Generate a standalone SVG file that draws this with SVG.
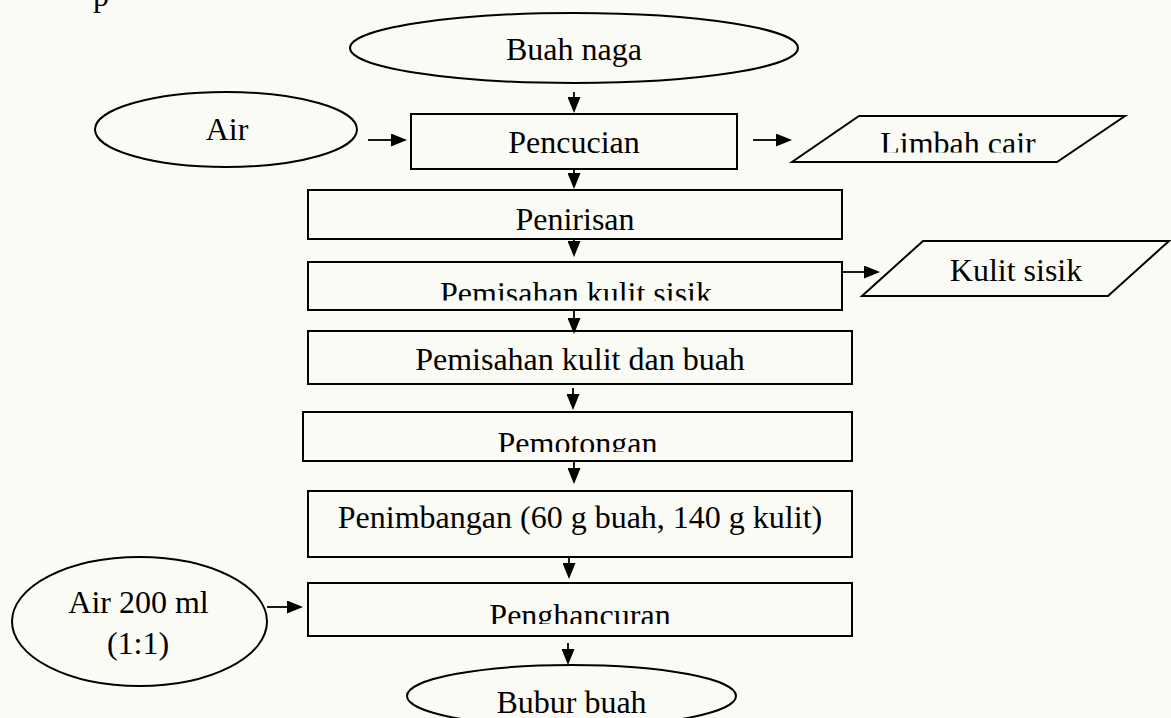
<svg xmlns="http://www.w3.org/2000/svg" width="1171" height="718" viewBox="0 0 1171 718">
  <style>
    .box{fill:none;stroke:#000;stroke-width:2}
    .lbl{font-family:"Liberation Serif","Times New Roman",serif;font-size:32px;fill:#000;text-anchor:middle}
    .con{stroke:#000;stroke-width:1.8;fill:none;marker-end:url(#ah)}
  </style>
  <defs>
    <marker id="ah" markerWidth="16" markerHeight="13" refX="8" refY="6.5" orient="auto" markerUnits="userSpaceOnUse">
      <path d="M0,0 L16,6.5 L0,13 z" fill="#000"/>
    </marker>
    <clipPath id="clipLimbah"><rect x="780" y="100" width="380" height="52.5"/></clipPath>
    <clipPath id="clipSisik"><rect x="300" y="262" width="550" height="38.5"/></clipPath>
    <clipPath id="clipPotong"><rect x="300" y="412" width="560" height="40"/></clipPath>
    <clipPath id="clipHancur"><rect x="300" y="583" width="560" height="41"/></clipPath>
  </defs>
  <rect x="0" y="0" width="1171" height="718" fill="#fbfbf6"/>
  <text class="lbl" x="101" y="6">p</text>

  <g id="buah-naga">
    <ellipse class="box" cx="574" cy="48" rx="224" ry="35"/>
    <text class="lbl" x="574" y="60">Buah naga</text>
  </g>
  <g id="air">
    <ellipse class="box" cx="226" cy="129.5" rx="131" ry="37.5"/>
    <text class="lbl" x="227" y="140">Air</text>
  </g>
  <g id="pencucian">
    <rect class="box" x="411" y="114" width="326" height="55"/>
    <text class="lbl" x="574" y="153">Pencucian</text>
  </g>
  <g id="limbah-cair">
    <polygon class="box" points="859,116 1125,116 1057,162 792,162"/>
    <text class="lbl" x="958" y="154" clip-path="url(#clipLimbah)">Limbah cair</text>
  </g>
  <g id="penirisan">
    <rect class="box" x="308" y="190" width="534" height="49"/>
    <text class="lbl" x="575" y="230">Penirisan</text>
  </g>
  <g id="pemisahan-kulit-sisik">
    <rect class="box" x="308" y="262" width="534" height="48"/>
    <text class="lbl" x="576" y="304" clip-path="url(#clipSisik)">Pemisahan kulit sisik</text>
  </g>
  <g id="kulit-sisik">
    <polygon class="box" points="923,241 1169,241 1108,296 862,296"/>
    <text class="lbl" x="1016" y="281">Kulit sisik</text>
  </g>
  <g id="pemisahan-kulit-dan-buah">
    <rect class="box" x="308" y="331" width="544" height="53"/>
    <text class="lbl" x="580" y="370">Pemisahan kulit dan buah</text>
  </g>
  <g id="pemotongan">
    <rect class="box" x="303" y="412" width="549" height="49"/>
    <text class="lbl" x="577.5" y="454" clip-path="url(#clipPotong)">Pemotongan</text>
  </g>
  <g id="penimbangan">
    <rect class="box" x="308" y="491" width="544" height="66"/>
    <text class="lbl" x="580" y="528">Penimbangan (60 g buah, 140 g kulit)</text>
  </g>
  <g id="air-200">
    <ellipse class="box" cx="139.5" cy="621.5" rx="127.5" ry="64.5"/>
    <text class="lbl" x="138.5" y="613">Air 200 ml</text>
    <text class="lbl" x="138" y="654">(1:1)</text>
  </g>
  <g id="penghancuran">
    <rect class="box" x="308" y="583" width="544" height="53"/>
    <text class="lbl" x="580" y="626" clip-path="url(#clipHancur)">Penghancuran</text>
  </g>
  <g id="bubur-buah">
    <ellipse class="box" cx="571.5" cy="696" rx="164.5" ry="31"/>
    <text class="lbl" x="571.5" y="713">Bubur buah</text>
  </g>

  <g id="connectors">
    <line class="con" x1="574" y1="92" x2="574" y2="105"/>
    <line class="con" x1="368" y1="140" x2="399" y2="140"/>
    <line class="con" x1="753" y1="140" x2="784" y2="140"/>
    <line class="con" x1="574" y1="169" x2="574" y2="181"/>
    <line class="con" x1="574" y1="239" x2="574" y2="249"/>
    <line class="con" x1="842" y1="272" x2="872" y2="272"/>
    <line class="con" x1="574" y1="310" x2="574" y2="326"/>
    <line class="con" x1="573" y1="388" x2="573" y2="402"/>
    <line class="con" x1="574" y1="462" x2="574" y2="476"/>
    <line class="con" x1="569" y1="557" x2="569" y2="571"/>
    <line class="con" x1="267" y1="607" x2="295" y2="607"/>
    <line class="con" x1="568" y1="643" x2="568" y2="657"/>
  </g>
</svg>
